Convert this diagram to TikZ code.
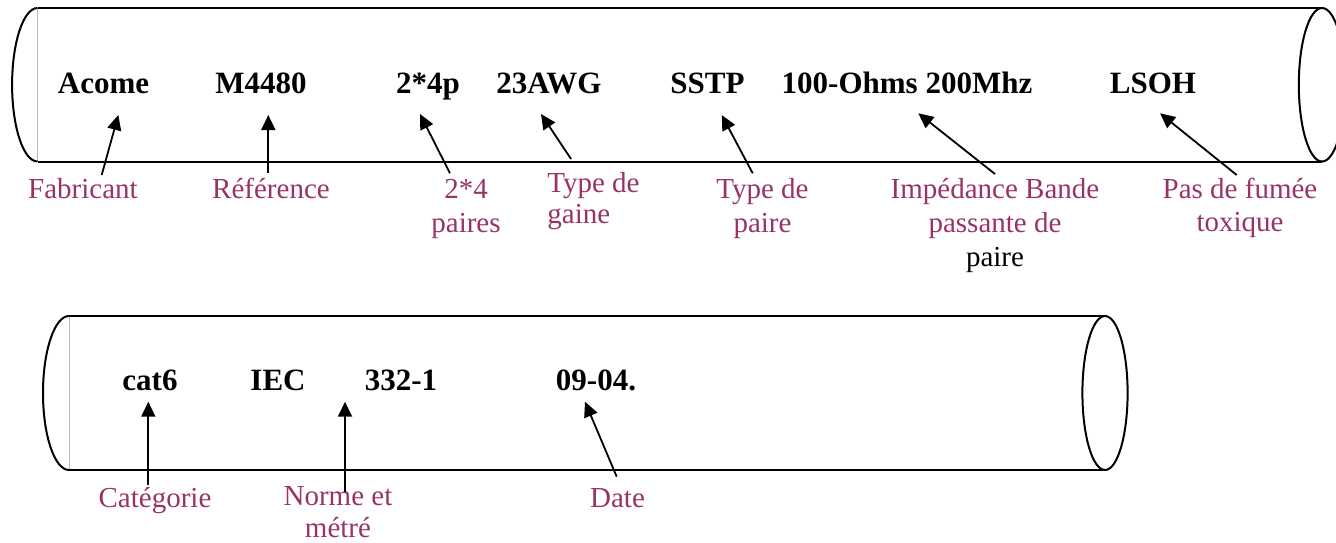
\documentclass[tikz,border=0pt]{standalone}
\usepackage{fontspec}
\setmainfont{Liberation Serif}
\usetikzlibrary{arrows.meta}
\definecolor{plum}{RGB}{153,51,102}
\tikzset{
  big/.style={font=\bfseries\fontsize{15.5}{18}\selectfont, inner sep=0pt, anchor=base},
  lab/.style={font=\fontsize{14.5}{16.5}\selectfont, text=plum, inner sep=0pt, anchor=base, align=center},
  ptr/.style={-{Triangle[length=7.5pt,width=7pt]}, line width=0.9pt},
  body/.style={line width=1pt},
  rim/.style={gray!55, line width=0.5pt},
}
\begin{document}
\begin{tikzpicture}[x=0.5pt,y=-0.5pt]
\useasboundingbox (0,0) rectangle (1336,542);
% cylinder 1
\draw[rim] (37.5,8) -- (37.5,161.5);
\draw[body] (37.5,8) -- (1322,8);
\draw[body] (37.5,161.5) -- (1322,161.5);
\draw[body] (37.5,8) arc[start angle=90, end angle=270, x radius=12.7pt, y radius=38.37pt];
\draw[body] (1322,84.75) ellipse[x radius=11.6pt, y radius=38.37pt];
% cylinder 2
\draw[rim] (69,316) -- (69,470);
\draw[body] (69,316) -- (1105,316);
\draw[body] (69,470) -- (1105,470);
\draw[body] (69,316) arc[start angle=90, end angle=270, x radius=13pt, y radius=38.5pt];
\draw[body] (1105,393) ellipse[x radius=11.3pt, y radius=38.5pt];
% texts row 1
\node[big] (acome) at (103.5,93) {Acome};
\node[big] (ref) at (261,93) {M4480};
\node[big] (pairs) at (428,93) {2*4p};
\node[big] (awg) at (549,93) {23AWG};
\node[big] (sstp) at (707.5,93) {SSTP};
\node[big] (ohm) at (907,93) {100-Ohms 200Mhz};
\node[big] (lsoh) at (1153,93) {LSOH};
% texts row 2
\node[big] (cat) at (150,390) {cat6};
\node[big] (iec) at (278,390) {IEC};
\node[big] (norm) at (401,390) {332-1};
\node[big] (date) at (596,390) {09-04.};
% labels row 1 (base anchor = last line)
\node[lab] (lfab) at (83,198) {Fabricant};
\node[lab] (lref) at (271,198) {Référence};
\node[lab, font=\fontsize{14.5}{16.8}\selectfont] (lpairs) at (466,232) {2*4\\paires};
\node[lab, font=\fontsize{14.5}{15.5}\selectfont, align=left, anchor=base west] (lgaine) at (547,223) {Type de\\gaine};
\node[lab, font=\fontsize{14.5}{17}\selectfont] (lpaire) at (762.5,232) {Type de\\paire};
\node[lab, font=\fontsize{14.5}{17}\selectfont] (limp) at (995,266) {Impédance Bande\\passante de\\\textcolor{black}{paire}};
\node[lab, font=\fontsize{14.5}{16.5}\selectfont] (lfum) at (1240,231) {Pas de fumée\\toxique};
% labels row 2
\node[lab] (lcat) at (155,507) {Catégorie};
\node[lab, font=\fontsize{14.5}{16}\selectfont] (lnorm) at (338,537) {Norme et\\métré};
\node[lab] (ldate) at (617.5,507) {Date};
% arrow end points
\coordinate (t1) at (101.7,175); \coordinate (h1) at (118.3,115);
\coordinate (t2) at (268.3,173.3); \coordinate (h2) at (268.3,115);
\coordinate (t3) at (450,173.3); \coordinate (h3) at (420,114);
\coordinate (t4) at (571,159); \coordinate (h4) at (541,114);
\coordinate (t5) at (752.7,173.3); \coordinate (h5) at (721.7,115);
\coordinate (t6) at (995,174); \coordinate (h6) at (918.3,113.3);
\coordinate (t7) at (1236.7,175); \coordinate (h7) at (1160,113.3);
\coordinate (t8) at (148.3,485); \coordinate (h8) at (148.3,401.7);
\coordinate (t9) at (345,491.7); \coordinate (h9) at (345,401.7);
\coordinate (t10) at (616.7,476.7); \coordinate (h10) at (585,401.7);
\foreach \i in {1,...,10} {\draw[ptr] (t\i) -- (h\i);}
\end{tikzpicture}
\end{document}
